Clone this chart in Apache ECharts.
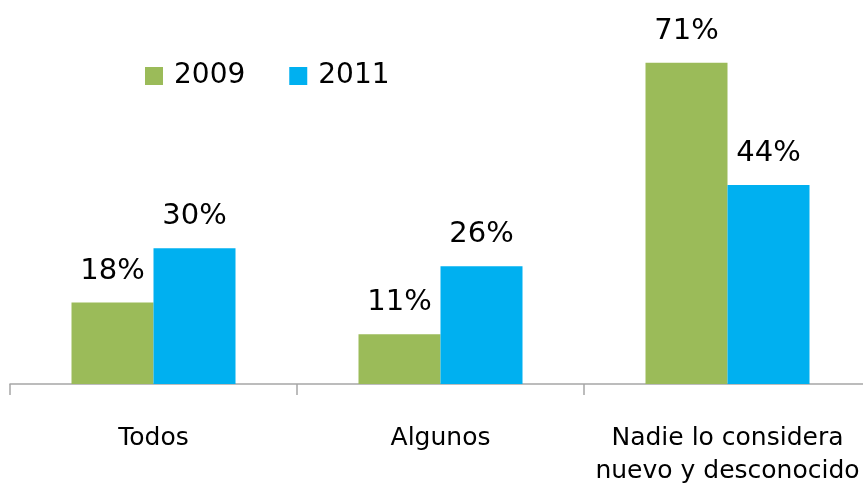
<!DOCTYPE html>
<html><head><meta charset="utf-8">
<script src="https://cdn.jsdelivr.net/npm/echarts@6/dist/echarts.min.js"></script>
<style>html,body{margin:0;padding:0;background:#fff;overflow:hidden}#c{width:871px;height:489px}</style>
</head><body><div id="c"></div>
<script>
var categories = ['Todos', 'Algunos', 'Nadie lo considera\nnuevo y desconocido'];
var seriesNames = ['2009', '2011'];
var values2009 = [18, 11, 71];
var values2011 = [30, 26, 44];
var colors = ['#9BBB59', '#00B0F0'];
var FONT = 'DejaVu Sans';
var chart = echarts.init(document.getElementById('c'), null, {renderer: 'canvas'});
function lab() {
  return {show: true, position: 'top', distance: 17, formatter: '{c}%',
    color: '#000', fontFamily: FONT, fontSize: 29};
}
chart.setOption({
  animation: false,
  legend: {
    left: 145, top: 62, padding: 0, itemWidth: 18, itemHeight: 18, itemGap: 44, icon: 'rect',
    textStyle: {fontFamily: FONT, fontSize: 28, color: '#000', lineHeight: 28, padding: [0, 0, 0, 6]},
    data: seriesNames
  },
  grid: {left: 10, right: 0, top: 22, bottom: 105, containLabel: false},
  xAxis: {
    type: 'category', data: categories,
    axisLine: {lineStyle: {color: '#A6A6A6', width: 1.5}},
    axisTick: {show: true, length: 11, lineStyle: {color: '#A6A6A6', width: 1.5}},
    axisLabel: {fontFamily: FONT, fontSize: 25, color: '#000', lineHeight: 33, margin: 38, interval: 0}
  },
  yAxis: {type: 'value', min: 0, max: 80, show: false, splitLine: {show: false}},
  series: [
    {name: seriesNames[0], type: 'bar', data: values2009, barWidth: 82, barGap: '0%',
     itemStyle: {color: colors[0]}, label: lab()},
    {name: seriesNames[1], type: 'bar', data: values2011, barWidth: 82, barGap: '0%',
     itemStyle: {color: colors[1]}, label: lab()}
  ]
});
</script></body></html>
